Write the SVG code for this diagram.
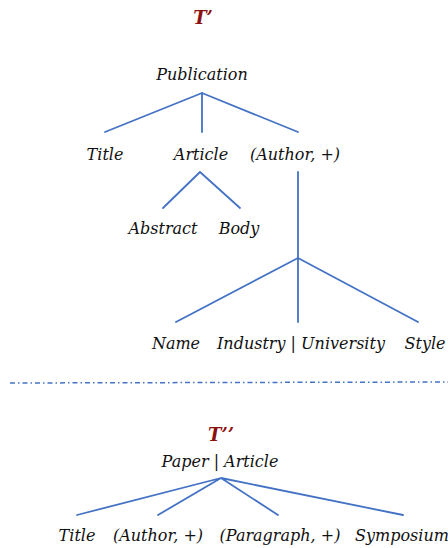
<svg xmlns="http://www.w3.org/2000/svg" width="448" height="548" viewBox="0 0 448 548">
  <style>
    .lbl { font-family: "DejaVu Serif", "Liberation Serif", serif; font-style: italic; font-size: 16px; fill: #111111; text-anchor: middle; }
    .ttl { font-family: "DejaVu Serif", "Liberation Serif", serif; font-style: italic; font-weight: bold; font-size: 18px; fill: #8b1010; text-anchor: middle; }
    .edge { stroke: #4472c4; stroke-width: 1.8; fill: none; stroke-linecap: round; }
    .sep { stroke: #4472c4; stroke-width: 1.5; stroke-dasharray: 5 3 1.5 3; fill: none; }
  </style>
  <rect width="448" height="548" fill="#ffffff"/>

  <!-- tree T' -->
  <text class="ttl" x="203" y="24">T’</text>

  <g id="connectors">
    <path class="edge" d="M202 93 L105 132 M202 93 L202 132 M202 93 L298 132"/>
    <path class="edge" d="M200 172 L163 208 M200 172 L240 208"/>
    <path class="edge" d="M298 172 L298 258"/>
    <path class="edge" d="M298 258 L176 322 M298 258 L298 322 M298 258 L418 322"/>
    <path class="edge" d="M221 478 L77 515 M221 478 L158 515 M221 478 L278 515 M221 478 L403 515"/>
  </g>

  <g id="publication"><text class="lbl" x="202" y="80">Publication</text></g>
  <g id="title1"><text class="lbl" x="105" y="160">Title</text></g>
  <g id="article"><text class="lbl" x="201" y="160">Article</text></g>
  <g id="author1"><text class="lbl" x="295" y="160">(Author, +)</text></g>
  <g id="abstract"><text class="lbl" x="163" y="234">Abstract</text></g>
  <g id="body"><text class="lbl" x="239" y="234">Body</text></g>
  <g id="name"><text class="lbl" x="176" y="349">Name</text></g>
  <g id="affiliation"><text class="lbl" x="301" y="349">Industry | University</text></g>
  <g id="style"><text class="lbl" x="425" y="349">Style</text></g>

  <!-- separator -->
  <path class="sep" d="M10 383 L448 382"/>

  <!-- tree T'' -->
  <text class="ttl" x="221" y="441">T’’</text>
  <g id="paper"><text class="lbl" x="220" y="467">Paper | Article</text></g>
  <g id="title2"><text class="lbl" x="77" y="541">Title</text></g>
  <g id="author2"><text class="lbl" x="158" y="541">(Author, +)</text></g>
  <g id="paragraph"><text class="lbl" x="280" y="541">(Paragraph, +)</text></g>
  <g id="symposium"><text class="lbl" x="402" y="541">Symposium</text></g>
</svg>
